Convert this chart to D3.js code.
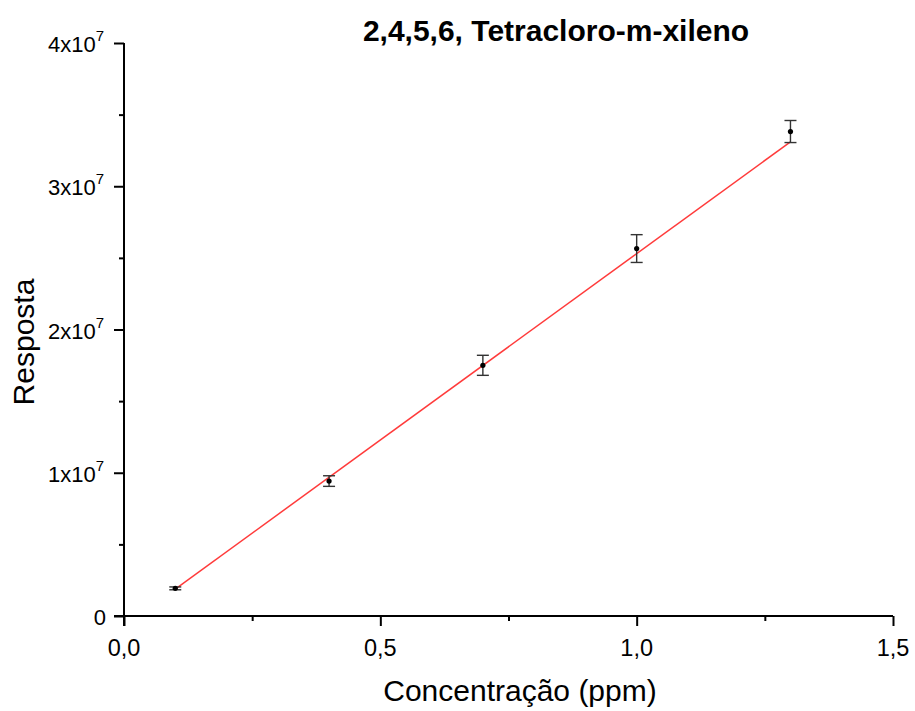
<!DOCTYPE html>
<html><head><meta charset="utf-8">
<script src="https://cdn.jsdelivr.net/npm/d3@7"></script>
<style>body{margin:0;background:#fff}</style>
</head><body>
<svg id="c" width="915" height="711"></svg>
<script>
const concentrations = [0.1, 0.4, 0.7, 1.0, 1.3];
const responses = [1.93e6, 9.42e6, 17.5e6, 25.65e6, 33.82e6];
const errors = [0.1e6, 0.37e6, 0.7e6, 0.97e6, 0.77e6];
const fitX = [0.1, 1.3];
const fitY = [1.88e6, 33.1e6];
const xTicks = [0, 0.5, 1.0, 1.5];
const xTickLabels = ["0,0", "0,5", "1,0", "1,5"];
const yTicks = [0, 1e7, 2e7, 3e7, 4e7];
const yTickMant = ["0", "1x10", "2x10", "3x10", "4x10"];
const titleText = "2,4,5,6, Tetracloro-m-xileno";
const xTitle = "Concentração (ppm)";
const yTitle = "Resposta";

const svg = d3.select("#c");
const font = "'Liberation Sans', Arial, sans-serif";
const x = d3.scaleLinear().domain([0, 1.5]).range([124, 893]);
const y = d3.scaleLinear().domain([0, 4e7]).range([616, 43]);

// axes
const xAxis = svg.append("g").attr("transform", "translate(0,616)");
xAxis.call(d3.axisBottom(x).tickValues(d3.range(0, 1.51, 0.25)).tickSize(5).tickFormat(""));
xAxis.call(g => {
  g.select(".domain").attr("stroke-width", 2).attr("d", `M${x(0)-10},0H${x(1.5)}`);
  g.selectAll(".tick line").attr("stroke-width", 2)
   .attr("y2", d => (Math.abs(d % 0.5) < 1e-9 ? 10 : 5));
});
const yAxis = svg.append("g").attr("transform", "translate(124,0)");
yAxis.call(d3.axisLeft(y).tickValues(d3.range(0, 4.01e7, 0.5e7)).tickSize(5).tickFormat(""));
yAxis.call(g => {
  g.select(".domain").attr("stroke-width", 2).attr("d", `M0,${y(0)+10}V${y(4e7)}`);
  g.selectAll(".tick line").attr("stroke-width", 2)
   .attr("x2", d => (Math.round(d / 5e6) % 2 === 0 ? -10 : -5));
});

// tick labels
svg.append("g").selectAll("text").data(xTicks).join("text")
  .attr("x", d => x(d)).attr("y", 656).attr("text-anchor", "middle")
  .attr("font-family", font).attr("font-size", 23.5).text((d, i) => xTickLabels[i]);

const yl = svg.append("g").selectAll("text").data(yTicks).join("text")
  .attr("x", 104).attr("y", d => y(d) + 9).attr("text-anchor", "end")
  .attr("font-family", font).attr("font-size", 22);
yl.each(function(d, i) {
  const t = d3.select(this);
  if (i === 0) { t.attr("x", 106).text(yTickMant[i]); return; }
  t.append("tspan").text(yTickMant[i]);
  t.append("tspan").attr("dy", -11).attr("font-size", 15).text("7");
});

// fit line
svg.append("line")
  .attr("x1", x(fitX[0])).attr("y1", y(fitY[0]))
  .attr("x2", x(fitX[1])).attr("y2", y(fitY[1]))
  .attr("stroke", "#ff3b3b").attr("stroke-width", 1.5);

// error bars
const eb = svg.append("g").attr("stroke", "#333").attr("stroke-width", 1.4);
concentrations.forEach((c, i) => {
  const cx = x(c), top = y(responses[i] + errors[i]), bot = y(responses[i] - errors[i]);
  eb.append("line").attr("x1", cx).attr("x2", cx).attr("y1", top).attr("y2", bot);
  eb.append("line").attr("x1", cx - 6).attr("x2", cx + 6).attr("y1", top).attr("y2", top);
  eb.append("line").attr("x1", cx - 6).attr("x2", cx + 6).attr("y1", bot).attr("y2", bot);
});
svg.append("g").selectAll("circle").data(concentrations).join("circle")
  .attr("cx", d => x(d)).attr("cy", (d, i) => y(responses[i])).attr("r", 2.6).attr("fill", "#000");

// titles
svg.append("text").attr("x", 556).attr("y", 41).attr("text-anchor", "middle")
  .attr("font-family", font).attr("font-weight", "bold").attr("font-size", 30).text(titleText);
svg.append("text").attr("x", 520).attr("y", 701).attr("text-anchor", "middle")
  .attr("font-family", font).attr("font-size", 30).text(xTitle);
svg.append("text").attr("transform", "translate(34,342) rotate(-90)").attr("text-anchor", "middle")
  .attr("font-family", font).attr("font-size", 30).text(yTitle);
</script>
</body></html>
